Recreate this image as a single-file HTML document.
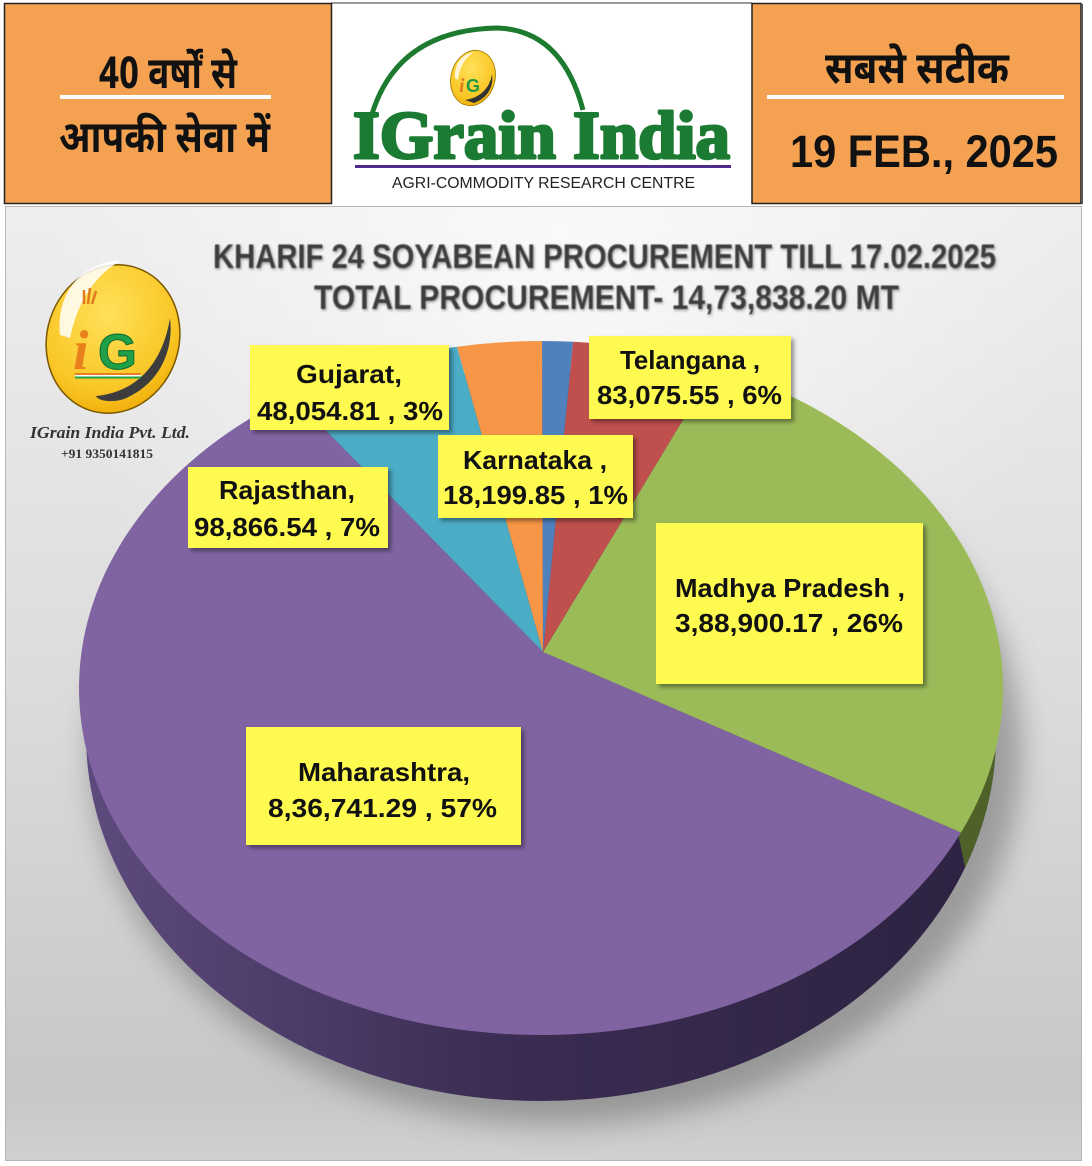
<!DOCTYPE html>
<html><head><meta charset="utf-8">
<style>
html,body{margin:0;padding:0;background:#fff;}
svg{display:block;}
.lb{font-family:"Liberation Sans",Arial,sans-serif;font-weight:bold;font-size:26px;fill:#111;}
.hi{font-family:"Noto Sans Devanagari","Lohit Devanagari","Mukta","Kalimati","FreeSans","Mangal","Liberation Sans",sans-serif;font-size:44px;font-weight:bold;fill:#111;}
</style></head><body>
<svg width="1092" height="1166" viewBox="0 0 1092 1166" xmlns="http://www.w3.org/2000/svg">
<defs>
 <linearGradient id="bg" x1="0" y1="206" x2="0" y2="1160" gradientUnits="userSpaceOnUse">
  <stop offset="0" stop-color="#EEEEEE"/>
  <stop offset="0.5" stop-color="#DCDCDC"/>
  <stop offset="0.93" stop-color="#C7C7C7"/>
  <stop offset="1" stop-color="#D0D0D0"/>
 </linearGradient>
 <radialGradient id="hl" cx="560" cy="260" r="520" gradientUnits="userSpaceOnUse">
  <stop offset="0" stop-color="#FFFFFF" stop-opacity="0.7"/>
  <stop offset="1" stop-color="#FFFFFF" stop-opacity="0"/>
 </radialGradient>
 <filter id="blur" x="-20%" y="-20%" width="140%" height="140%"><feGaussianBlur stdDeviation="14"/></filter>
 <filter id="bsh" x="-10%" y="-10%" width="130%" height="140%"><feDropShadow dx="3" dy="3" stdDeviation="2" flood-color="#000" flood-opacity="0.4"/></filter>
 <filter id="tsh" x="-5%" y="-20%" width="110%" height="150%"><feGaussianBlur stdDeviation="0.5"/><feDropShadow dx="1" dy="1.5" stdDeviation="1.2" flood-color="#000" flood-opacity="0.35"/></filter>
 <linearGradient id="side" x1="80" y1="0" x2="1003" y2="0" gradientUnits="userSpaceOnUse">
  <stop offset="0" stop-color="#5E4B7E"/>
  <stop offset="0.45" stop-color="#3B2D53"/>
  <stop offset="1" stop-color="#2D2240"/>
 </linearGradient>
 <radialGradient id="coin" cx="0.4" cy="0.35" r="0.75">
  <stop offset="0" stop-color="#FFE15A"/>
  <stop offset="0.7" stop-color="#F9C625"/>
  <stop offset="1" stop-color="#EDA500"/>
 </radialGradient>
 <clipPath id="botclip"><ellipse cx="541" cy="735" rx="455" ry="366"/></clipPath>
</defs>

<rect x="0" y="0" width="1092" height="1166" fill="#FFFFFF"/>

<!-- Header -->
<rect x="331" y="3" width="421" height="200" fill="#FFFFFF"/>
<line x1="331" y1="3" x2="752" y2="3" stroke="#9A9A9A" stroke-width="2"/>
<rect x="4.5" y="3.5" width="327" height="200" fill="#F4A252" stroke="#222" stroke-width="1.5"/>
<rect x="752" y="3.5" width="329" height="200" fill="#F4A252" stroke="#222" stroke-width="1.5"/>
<line x1="1082" y1="4" x2="1082" y2="204" stroke="#555" stroke-width="2"/>

<text class="hi" x="99" y="88" textLength="138" lengthAdjust="spacingAndGlyphs">40 वर्षों से</text>
<rect x="60" y="95" width="211" height="4" fill="#FFFFFF"/>
<text class="hi" x="59" y="152" textLength="211" lengthAdjust="spacingAndGlyphs">आपकी सेवा में</text>

<text class="hi" x="825" y="83" textLength="184" lengthAdjust="spacingAndGlyphs">सबसे सटीक</text>
<rect x="767" y="95" width="297" height="4" fill="#FFFFFF"/>
<text x="790" y="167" font-family="Liberation Sans, Arial, sans-serif" font-weight="bold" font-size="45" fill="#111" textLength="268" lengthAdjust="spacingAndGlyphs">19 FEB., 2025</text>

<!-- middle logo -->
<path d="M372,114 Q398,30 497,28 Q562,30 583,110" fill="none" stroke="#1C7B2E" stroke-width="5"/>
<g transform="rotate(15 473 78)">
 <ellipse cx="473" cy="78" rx="22" ry="28" fill="url(#coin)" stroke="#A07A00" stroke-width="0.8"/>
</g>
<path d="M455,78 C454,64 462,54 474,52 C465,58 460,66 458,80 Z" fill="#FFFFFF" opacity="0.8"/>
<path d="M465,100 C480,98 490,88 492,74 C494,86 488,98 474,103 Z" fill="#333"/>
<text x="459" y="92" font-family="Liberation Serif, serif" font-style="italic" font-weight="bold" font-size="20" fill="#E07A20">i</text>
<text x="466" y="92" font-family="Liberation Sans, sans-serif" font-weight="bold" font-size="18" fill="#1F9A45">G</text>
<text x="353" y="158" font-family="Liberation Serif, serif" font-weight="bold" font-size="68" fill="#1C7B33" stroke="#1C7B33" stroke-width="3" stroke-linejoin="round" textLength="377" lengthAdjust="spacingAndGlyphs">IGrain India</text>
<rect x="355" y="165" width="376" height="3" fill="#4E2D8C"/>
<text x="392" y="188" font-family="Liberation Sans, Arial, sans-serif" font-size="15.5" fill="#222" textLength="303" lengthAdjust="spacingAndGlyphs">AGRI-COMMODITY RESEARCH CENTRE</text>

<!-- Chart area -->
<rect x="5.5" y="206.5" width="1076" height="954" fill="url(#bg)" stroke="#B5B5B5" stroke-width="1"/>
<rect x="6" y="207" width="1075" height="700" fill="url(#hl)"/>

<!-- Title -->
<g filter="url(#tsh)">
<text x="213" y="268" font-family="Liberation Sans, Arial, sans-serif" font-weight="bold" font-size="34" fill="#3E3E3E" textLength="783" lengthAdjust="spacingAndGlyphs">KHARIF 24 SOYABEAN PROCUREMENT TILL 17.02.2025</text>
<text x="314" y="309" font-family="Liberation Sans, Arial, sans-serif" font-weight="bold" font-size="34" fill="#3E3E3E" textLength="585" lengthAdjust="spacingAndGlyphs">TOTAL PROCUREMENT- 14,73,838.20 MT</text>
</g>

<!-- Left logo -->
<g transform="rotate(18 113 339)">
 <ellipse cx="113" cy="339" rx="66" ry="75" fill="url(#coin)" stroke="#7A5800" stroke-width="1.5"/>
</g>
<path d="M60,335 C56,292 82,262 122,260 C96,274 78,300 70,338 Z" fill="#FFFFFF" opacity="0.85"/>
<path d="M96,396 C138,392 163,362 170,318 C174,350 160,384 124,399 C112,403 98,401 96,396 Z" fill="#3D3D3D"/>
<path d="M84,304 l0,-14 M88,304 l2,-16 M92,304 l4,-13" stroke="#E07A20" stroke-width="2.5" fill="none"/>
<text x="73" y="369" font-family="Liberation Serif, serif" font-style="italic" font-weight="bold" font-size="56" fill="#E8801E">i</text>
<text x="98" y="369" font-family="Liberation Sans, sans-serif" font-weight="bold" font-size="50" fill="#1FA049" stroke="#0E6A2A" stroke-width="1">G</text>
<rect x="75" y="373" width="66" height="2" fill="#E8801E"/>
<rect x="75" y="375" width="66" height="1.5" fill="#FFFFFF"/>
<rect x="75" y="376.5" width="66" height="2" fill="#1FA049"/>
<text x="30" y="438" font-family="Liberation Serif, serif" font-style="italic" font-weight="bold" font-size="17" fill="#333" textLength="160" lengthAdjust="spacingAndGlyphs">IGrain India Pvt. Ltd.</text>
<text x="61" y="458" font-family="Liberation Serif, serif" font-weight="bold" font-size="13" fill="#333" textLength="92" lengthAdjust="spacingAndGlyphs">+91 9350141815</text>

<!-- Pie shadow -->
<ellipse cx="556" cy="752" rx="466" ry="372" fill="#6E6E6E" opacity="0.55" filter="url(#blur)"/>

<!-- Pie side -->
<ellipse cx="541" cy="735" rx="455" ry="366" fill="url(#side)"/>
<polygon points="958,833 966,872 1100,872 1100,600 958,600" fill="#4E6128" clip-path="url(#botclip)"/>

<!-- Pie top -->
<path d="M543,652 L961,832.56 A462,347 0 1 1 292,395.7 Z" fill="#8064A2"/>
<path d="M543,652 L715,366.55 A462,347 0 0 1 961,832.56 Z" fill="#9BBB59"/>
<path d="M543,652 L573,341.8 A462,347 0 0 1 715,366.55 Z" fill="#C0504D"/>
<path d="M543,652 L542,341 A462,347 0 0 1 573,341.8 Z" fill="#4F81BD"/>
<path d="M543,652 L292,395.7 A462,347 0 0 1 457,346.8 Z" fill="#4BACC6"/>
<path d="M543,652 L457,346.8 A462,347 0 0 1 542,341 Z" fill="#F79646"/>

<!-- Labels -->
<g filter="url(#bsh)" fill="#FFFA50">
 <rect x="250" y="345" width="199" height="85"/>
 <rect x="589" y="336" width="202" height="83"/>
 <rect x="438" y="435" width="195" height="83"/>
 <rect x="188" y="467" width="200" height="81"/>
 <rect x="656" y="523" width="267" height="161"/>
 <rect x="246" y="727" width="275" height="118"/>
</g>
<text class="lb" x="296" y="383" textLength="106" lengthAdjust="spacingAndGlyphs">Gujarat,</text>
<text class="lb" x="257" y="420" textLength="186" lengthAdjust="spacingAndGlyphs">48,054.81 , 3%</text>
<text class="lb" x="620" y="369" textLength="140" lengthAdjust="spacingAndGlyphs">Telangana ,</text>
<text class="lb" x="597" y="404" textLength="185" lengthAdjust="spacingAndGlyphs">83,075.55 , 6%</text>
<text class="lb" x="463" y="469" textLength="144" lengthAdjust="spacingAndGlyphs">Karnataka ,</text>
<text class="lb" x="443" y="504" textLength="185" lengthAdjust="spacingAndGlyphs">18,199.85 , 1%</text>
<text class="lb" x="219" y="499" textLength="136" lengthAdjust="spacingAndGlyphs">Rajasthan,</text>
<text class="lb" x="194" y="536" textLength="186" lengthAdjust="spacingAndGlyphs">98,866.54 , 7%</text>
<text class="lb" x="675" y="597" textLength="230" lengthAdjust="spacingAndGlyphs">Madhya Pradesh ,</text>
<text class="lb" x="675" y="632" textLength="228" lengthAdjust="spacingAndGlyphs">3,88,900.17 , 26%</text>
<text class="lb" x="298" y="781" textLength="172" lengthAdjust="spacingAndGlyphs">Maharashtra,</text>
<text class="lb" x="268" y="817" textLength="229" lengthAdjust="spacingAndGlyphs">8,36,741.29 , 57%</text>
</svg>
</body></html>
